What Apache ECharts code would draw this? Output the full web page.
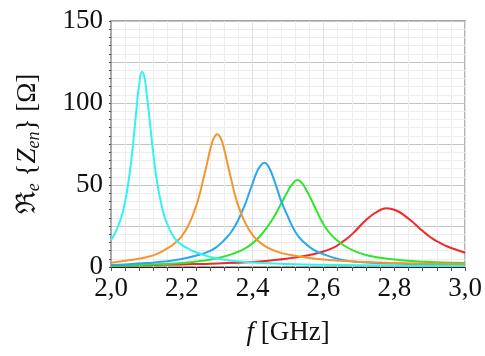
<html>
<head>
<meta charset="UTF-8">
<title>Re Zen</title>
<script src="https://cdn.jsdelivr.net/npm/echarts@6/dist/echarts.min.js"></script>
<style>html,body,#container{width:100%;height:100%;margin:0;padding:0;background:#fff;}</style>
</head>
<body>
<div id="container"></div>
<script>
// frequencies (GHz) and Re{Zen} (Ohm), one pair of arrays per curve
var cyanF = [2.00, 2.01, 2.02, 2.03, 2.04, 2.05, 2.06, 2.07, 2.08, 2.088, 2.095, 2.10, 2.11, 2.12, 2.13, 2.14, 2.15, 2.16, 2.18, 2.20, 2.22, 2.24, 2.27, 2.30, 2.35, 2.40, 2.50, 2.60, 2.70, 2.80, 2.90, 3.00];
var cyanR = [16.5, 20, 25, 31, 40, 53, 70, 92, 112, 119, 115, 107, 88, 68, 52, 40.5, 31.5, 25.5, 17.5, 13.5, 11, 9, 6.8, 5.2, 3.6, 2.7, 1.8, 1.3, 1.1, 0.9, 0.7, 0.6];

var orangeF = [2.00, 2.05, 2.10, 2.13, 2.16, 2.18, 2.20, 2.22, 2.24, 2.25, 2.26, 2.27, 2.28, 2.29, 2.30, 2.31, 2.32, 2.33, 2.34, 2.35, 2.36, 2.38, 2.40, 2.42, 2.45, 2.48, 2.52, 2.56, 2.60, 2.70, 2.80, 2.90, 3.00];
var orangeR = [2.6, 4.1, 6, 8, 11.5, 14.5, 18.8, 26, 37, 44, 53, 62, 71.5, 78.4, 81, 78.4, 71.5, 62, 53, 44, 37, 26.5, 19.5, 15, 11, 8.6, 6.8, 5.5, 4.5, 3.2, 2.5, 2.1, 1.8];

var blueF = [2.00, 2.05, 2.10, 2.15, 2.20, 2.25, 2.28, 2.30, 2.32, 2.34, 2.36, 2.38, 2.39, 2.40, 2.41, 2.42, 2.433, 2.44, 2.45, 2.46, 2.47, 2.48, 2.50, 2.52, 2.54, 2.57, 2.60, 2.65, 2.70, 2.80, 2.90, 3.00];
var blueR = [1.2, 1.7, 2.4, 3.3, 4.9, 7.5, 9.8, 12.5, 16.5, 21.5, 29, 39, 45, 51, 57, 61, 63.5, 62.7, 59, 53.4, 47, 40.5, 30.5, 21.5, 16, 10.8, 7.8, 4.5, 3.1, 2.1, 1.6, 1.3];

var greenF = [2.00, 2.10, 2.20, 2.25, 2.30, 2.35, 2.38, 2.40, 2.42, 2.44, 2.46, 2.48, 2.50, 2.51, 2.527, 2.54, 2.55, 2.56, 2.58, 2.60, 2.62, 2.64, 2.66, 2.69, 2.72, 2.76, 2.80, 2.88, 3.00];
var greenR = [0.6, 1.3, 2.5, 3.6, 5.3, 8.5, 11.5, 14.5, 18.6, 24, 30.5, 38.5, 46.5, 50, 53, 51, 47.5, 43.5, 34.5, 26, 20, 16, 12.8, 9.5, 7.3, 5.6, 4.5, 3.2, 2.5];

var redF = [2.00, 2.10, 2.20, 2.30, 2.40, 2.45, 2.50, 2.55, 2.60, 2.63, 2.65, 2.67, 2.69, 2.71, 2.73, 2.75, 2.765, 2.778, 2.79, 2.81, 2.83, 2.85, 2.87, 2.89, 2.91, 2.93, 2.95, 2.975, 3.00];
var redR = [0.8, 1.1, 1.6, 2.2, 3.1, 4, 5.2, 6.9, 9.5, 12, 14.8, 18, 22, 26.5, 30.5, 33.5, 35.2, 35.8, 35.5, 34, 31.2, 27.7, 23.8, 20.2, 17, 14.6, 12.5, 10.5, 8.7];

var xTicks = [2.0, 2.2, 2.4, 2.6, 2.8, 3.0];
var yTicks = [0, 50, 100, 150];

function pairs(f, r) {
	var out = [];
	for (var i = 0; i < f.length; i++) out.push([f[i], r[i]]);
	return out;
}

var serif = "'Liberation Serif', 'Times New Roman', serif";

function curve(name, color, f, r) {
	return {
		name: name,
		type: 'line',
		data: pairs(f, r),
		smooth: true,
		symbol: 'none',
		lineStyle: { color: color, width: 2 },
		itemStyle: { color: color }
	};
}

var chart = echarts.init(document.getElementById('container'));
chart.setOption({
	animation: false,
	backgroundColor: '#fff',
	grid: {
		left: 111, right: 19, top: 21, bottom: 89,
		show: true, borderColor: '#888', borderWidth: 1.5
	},
	xAxis: {
		type: 'value',
		min: xTicks[0], max: xTicks[xTicks.length - 1], interval: 0.2,
		name: '{i|f} [GHz]',
		nameLocation: 'middle',
		nameGap: 52,
		nameTextStyle: {
			fontFamily: serif, fontSize: 27, color: '#111',
			rich: { i: { fontFamily: serif, fontSize: 27, fontStyle: 'italic', color: '#111' } }
		},
		axisLine: { onZero: false, lineStyle: { color: '#222', width: 1 } },
		axisTick: { show: true, length: 4, lineStyle: { color: '#555' } },
		minorTick: { show: true, splitNumber: 5, length: 4, lineStyle: { color: '#555' } },
		splitLine: { show: true, lineStyle: { color: '#e0e0e0', width: 1 } },
		minorSplitLine: { show: true, lineStyle: { color: '#ececec', width: 1 } },
		axisLabel: {
			fontFamily: serif, fontSize: 27, color: '#111', margin: 8,
			formatter: function (v) { return v.toFixed(1).replace('.', ','); }
		}
	},
	yAxis: {
		type: 'value',
		min: yTicks[0], max: yTicks[yTicks.length - 1], interval: 25,
		name: 'ℜ{s|e} {{i|Z}{s|en}} [Ω]',
		nameLocation: 'middle',
		nameGap: 68,
		nameTextStyle: {
			fontFamily: serif, fontSize: 27, color: '#111', lineHeight: 30,
			rich: {
				i: { fontFamily: serif, fontSize: 27, fontStyle: 'italic', color: '#111', lineHeight: 30 },
				s: { fontFamily: serif, fontSize: 18, fontStyle: 'italic', color: '#111', lineHeight: 30, padding: [10, 0, 0, 0], verticalAlign: 'bottom' }
			}
		},
		axisLine: { show: true, lineStyle: { color: '#aaa', width: 1 } },
		axisTick: { show: true, length: 2, lineStyle: { color: '#444' } },
		minorTick: { show: true, splitNumber: 5, length: 2, lineStyle: { color: '#444' } },
		splitLine: { show: true, lineStyle: { color: '#c4c4c4', width: 1 } },
		minorSplitLine: { show: true, lineStyle: { color: '#ececec', width: 1 } },
		axisLabel: {
			fontFamily: serif, fontSize: 27, color: '#111', margin: 8,
			formatter: function (v) { return yTicks.indexOf(v) >= 0 ? String(v) : ''; }
		}
	},
	series: [
		curve('red', '#ee2a2a', redF, redR),
		curve('green', '#2ee62e', greenF, greenR),
		curve('blue', '#27a8f4', blueF, blueR),
		curve('orange', '#f5952f', orangeF, orangeR),
		curve('cyan', '#33f2f2', cyanF, cyanR)
	]
});
</script>
</body>
</html>
